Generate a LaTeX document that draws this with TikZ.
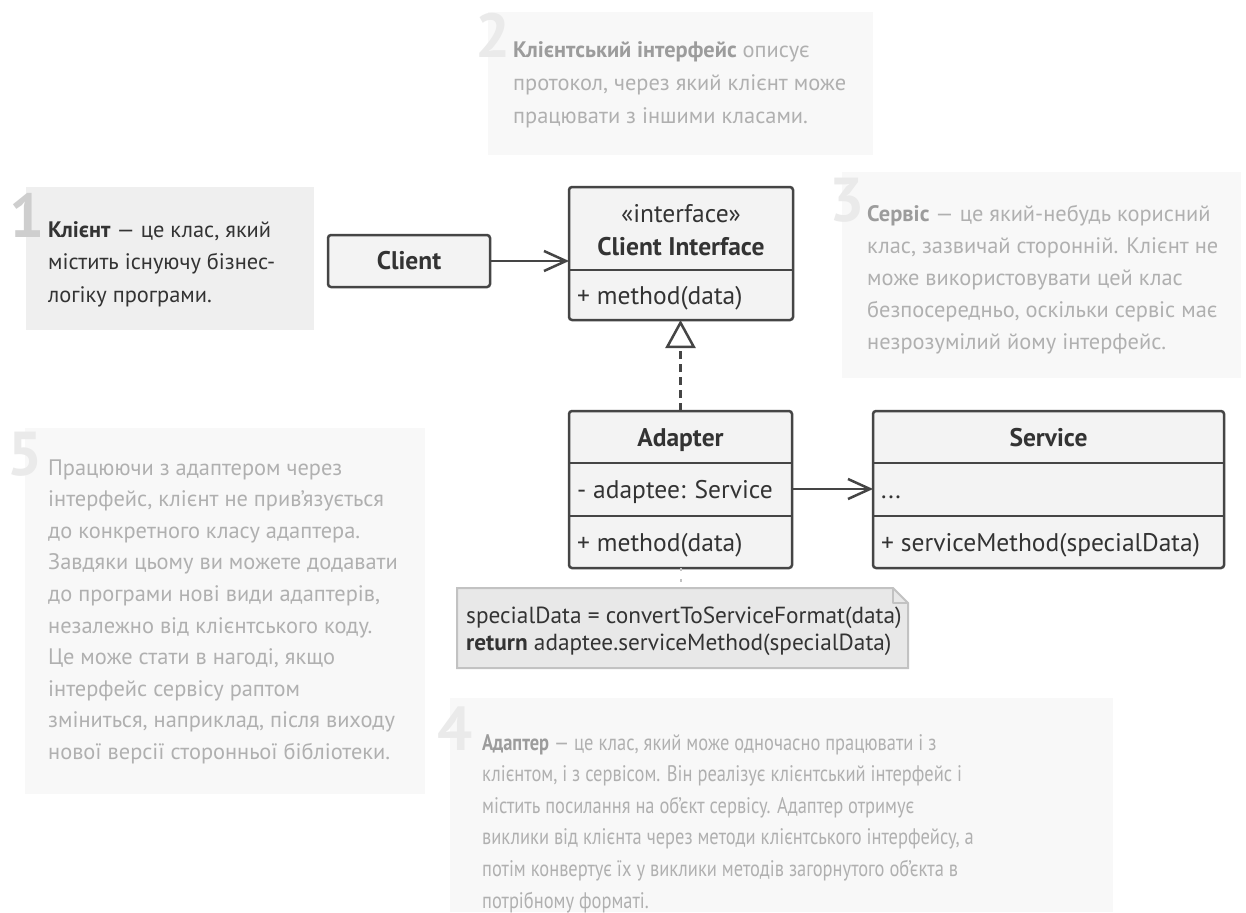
\documentclass[tikz,border=0pt]{standalone}
\usepackage{fontspec}
\setmainfont{PT Sans}
\newfontfamily\narrowfont[FakeStretch=0.82]{PT Sans}
\usetikzlibrary{arrows.meta,calc}

\definecolor{inkdark}{HTML}{333333}
\definecolor{inklight}{HTML}{B0B0B0}
\definecolor{inkbold}{HTML}{9C9C9C}
\definecolor{panelact}{HTML}{EFEFEF}
\definecolor{panel}{HTML}{F8F8F8}
\definecolor{digitact}{HTML}{CECECE}
\definecolor{digit}{HTML}{EAEAEA}
\definecolor{boxline}{HTML}{454545}
\definecolor{boxfill}{HTML}{F3F3F3}
\definecolor{notefill}{HTML}{E8E8E8}
\definecolor{noteline}{HTML}{C2C2C2}

\begin{document}
\begin{tikzpicture}[x=1pt,y=-1pt,
  txtline/.style={anchor=base west, inner sep=0pt, font=\fontsize{22.4}{32}\selectfont},
  narrowline/.style={anchor=base west, inner sep=0pt, font=\narrowfont\fontsize{22.5}{32}\selectfont},
  bignum/.style={anchor=base west, inner sep=0pt, font=\bfseries\fontsize{62}{62}\selectfont},
  classbox/.style={draw=boxline, fill=boxfill, line width=2.5pt, rounded corners=3pt,
    anchor=north west, inner sep=0pt, outer sep=0pt},
  divider/.style={draw=boxline, line width=2.5pt},
  ctext/.style={inner sep=0pt, text=inkdark, font=\fontsize{25.5}{28}\selectfont},
  cbold/.style={ctext, font=\bfseries\fontsize{25.5}{28}\selectfont},
  codetext/.style={inner sep=0pt, text=inkdark, anchor=base west, font=\fontsize{23.3}{26}\selectfont},
  assoc/.style={draw=boxline, line width=2.5pt,
    -{Straight Barb[length=22pt,width=20pt,line width=2.5pt]}},
  realize/.style={draw=boxline, line width=2.5pt, dash pattern=on 8pt off 5pt,
    -{Triangle[open,length=28pt,width=30pt,line width=2.5pt]}},
  notelink/.style={draw=noteline, line width=2pt, dash pattern=on 3pt off 8pt},
]
\useasboundingbox (0,0) rectangle (1246,912);
\fill[white] (0,0) rectangle (1246,912);

% ---- explanatory panels ----
\fill[panelact] (26,187) rectangle (314,330);
\fill[panel] (488,12) rectangle (873,155);
\fill[panel] (842,172) rectangle (1241,378);
\fill[panel] (25,428) rectangle (425,794);
\fill[panel] (450,698) rectangle (1113,912);

% panel 1
\node[bignum, text=digitact] (d1) at (9,237) {1};
\foreach \t [count=\i from 0] in {{\textbf{Клієнт} — це клас, який},{містить існуючу бізнес-},{логіку програми.}}
  \node[txtline, text=inkdark] (p1-\i) at (48,{237+32.5*\i}) {\t};

% panel 2
\node[bignum, text=digit] (d2) at (475,58) {2};
\foreach \t [count=\i from 0] in {{\textcolor{inkbold}{\textbf{Клієнтський інтерфейс}} описує},{протокол, через який клієнт може},{працювати з іншими класами.}}
  \node[txtline, text=inklight] (p2-\i) at (513,{58+33*\i}) {\t};

% panel 3
\node[bignum, text=digit] (d3) at (829,221) {3};
\foreach \t [count=\i from 0] in {{\textcolor{inkbold}{\textbf{Сервіс}} — це який-небудь корисний},{клас, зазвичай сторонній. Клієнт не},{може використовувати цей клас},{безпосередньо, оскільки сервіс має},{незрозумілий йому інтерфейс.}}
  \node[txtline, text=inklight] (p3-\i) at (867,{221+32.2*\i}) {\t};

% panel 5
\node[bignum, text=digit] (d5) at (7,475) {5};
\foreach \t [count=\i from 0] in {{Працюючи з адаптером через},{інтерфейс, клієнт не прив’язується},{до конкретного класу адаптера.},{Завдяки цьому ви можете додавати},{до програми нові види адаптерів,},{незалежно від клієнтського коду.},{Це може стати в нагоді, якщо},{інтерфейс сервісу раптом},{зміниться, наприклад, після виходу},{нової версії сторонньої бібліотеки.}}
  \node[txtline, text=inklight] (p5-\i) at (48,{475+31.6*\i}) {\t};

% panel 4
\node[bignum, text=digit] (d4) at (437,750) {4};
\foreach \t [count=\i from 0] in {{\textcolor{inkbold}{\textbf{Адаптер}} — це клас, який може одночасно працювати і з},{клієнтом, і з сервісом. Він реалізує клієнтський інтерфейс і},{містить посилання на об’єкт сервісу. Адаптер отримує},{виклики від клієнта через методи клієнтського інтерфейсу, а},{потім конвертує їх у виклики методів загорнутого об’єкта в},{потрібному форматі.}}
  \node[narrowline, text=inklight] (p4-\i) at (482,{750+31.6*\i}) {\t};

% ---- class diagram ----
\node[classbox, minimum width=162pt, minimum height=52pt] (client) at (328,235) {};
\node[cbold] (client-name) at (client.center) {Client};

\node[classbox, minimum width=224pt, minimum height=133pt] (ci) at (569,187) {};
\draw[divider] ($(ci.north west)+(0,83)$) -- ($(ci.north east)+(0,83)$);
\node[ctext, anchor=base] (ci-stereo) at ($(ci.north)+(0,35)$) {«interface»};
\node[cbold, anchor=base] (ci-name) at ($(ci.north)+(0,68)$) {Client Interface};
\node[ctext, anchor=base west] (ci-op) at ($(ci.north west)+(8,117)$) {+ method(data)};

\node[classbox, minimum width=223pt, minimum height=157pt] (adapter) at (569,411) {};
\draw[divider] ($(adapter.north west)+(0,52)$) -- ($(adapter.north east)+(0,52)$);
\draw[divider] ($(adapter.north west)+(0,105)$) -- ($(adapter.north east)+(0,105)$);
\node[cbold, anchor=base] (adapter-name) at ($(adapter.north)+(0,35)$) {Adapter};
\node[ctext, anchor=base west] (adapter-field) at ($(adapter.north west)+(8,87)$) {- adaptee: Service};
\node[ctext, anchor=base west] (adapter-op) at ($(adapter.north west)+(8,140)$) {+ method(data)};

\node[classbox, minimum width=351pt, minimum height=157pt] (service) at (873,411) {};
\draw[divider] ($(service.north west)+(0,52)$) -- ($(service.north east)+(0,52)$);
\draw[divider] ($(service.north west)+(0,105)$) -- ($(service.north east)+(0,105)$);
\node[cbold, anchor=base] (service-name) at ($(service.north)+(0,35)$) {Service};
\node[ctext, anchor=base west] (service-field) at ($(service.north west)+(8,87)$) {...};
\node[ctext, anchor=base west] (service-op) at ($(service.north west)+(8,140)$) {+ serviceMethod(specialData)};

% code note with folded corner
\node[anchor=north west, inner sep=0pt, outer sep=0pt, minimum width=451pt, minimum height=80pt] (code) at (457,588) {};
\filldraw[fill=notefill, draw=noteline, line width=2pt]
  (code.north west) -- ($(code.north east)+(-15,0)$) -- ($(code.north east)+(0,15)$)
  -- (code.south east) -- (code.south west) -- cycle;
\draw[noteline, line width=2pt, line join=round]
  ($(code.north east)+(-15,0)$) -- ($(code.north east)+(-15,15)$) -- ($(code.north east)+(0,15)$);
\node[codetext] (code-l1) at ($(code.north west)+(9,35)$) {specialData = convertToServiceFormat(data)};
\node[codetext] (code-l2) at ($(code.north west)+(9,62)$) {\textbf{return} adaptee.serviceMethod(specialData)};

% ---- connectors ----
\draw[assoc] (client.east) -- (client.east -| ci.west);
\draw[realize] (adapter.north) -- (adapter.north |- ci.south);
\draw[assoc] ($(adapter.north east)+(0,78)$) -- ($(service.north west)+(0,78)$);
\draw[notelink] (adapter.south) -- (adapter.south |- code.north);
\end{tikzpicture}
\end{document}
